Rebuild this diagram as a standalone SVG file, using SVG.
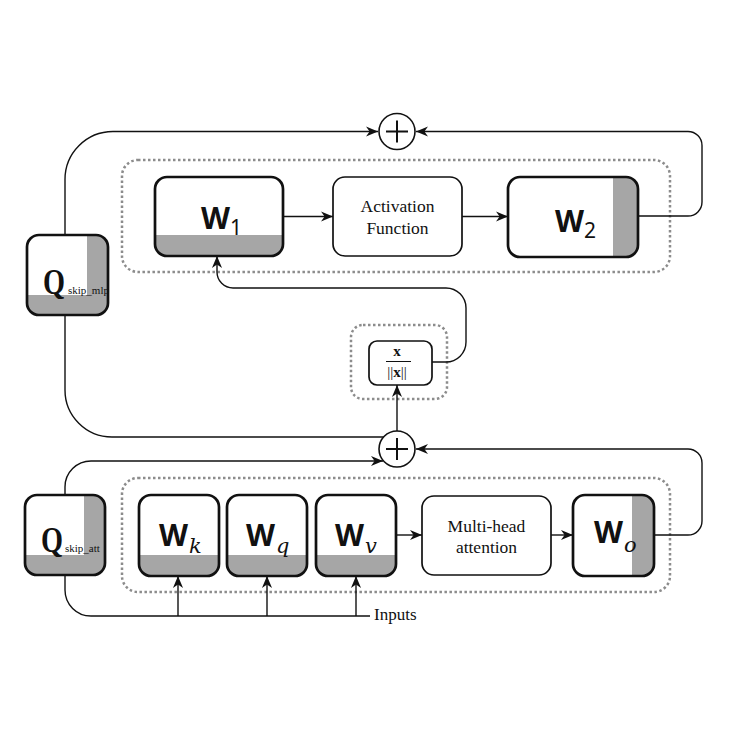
<svg xmlns="http://www.w3.org/2000/svg" width="735" height="735" viewBox="0 0 735 735">
<style>
.bg{fill:#fff}
.bold{fill:none;stroke:#111;stroke-width:2.7}
.thin{fill:#fff;stroke:#111;stroke-width:1.7}
.gray{fill:#a6a6a6}
.dot{fill:none;stroke:#8c8c8c;stroke-width:2.5;stroke-dasharray:2.5 2.5}
.conn{fill:none;stroke:#111;stroke-width:1.4}
.wt{font-family:"Noto Sans","DejaVu Sans",sans-serif;font-weight:bold;font-size:30px;fill:#111}
.ws{font-family:"Noto Sans","DejaVu Sans",sans-serif;font-size:21px;fill:#111}
.wi{font-family:"DejaVu Serif","Liberation Serif",serif;font-style:italic;font-size:21px;fill:#111}
.qt{font-family:"Liberation Serif",serif;font-weight:bold;font-size:35px;fill:#111}
.qs{font-family:"Liberation Serif",serif;font-size:11px;fill:#111}
.lbl{font-family:"Liberation Serif",serif;font-size:17.5px;fill:#111;text-anchor:middle}
.nt{font-family:"Liberation Serif",serif;font-size:15px;fill:#111;text-anchor:middle}
.plus{fill:#fff;stroke:#111;stroke-width:1.6}
.pl{stroke:#111;stroke-width:2;fill:none}
</style>
<defs>
<marker id="ah" viewBox="0 0 10 10" refX="10" refY="5" markerWidth="12" markerHeight="12" markerUnits="userSpaceOnUse" orient="auto">
<path d="M0,0.8 L10,5 L0,9.2 L3,5 Z" fill="#111"/>
</marker>
<clipPath id="cW1"><rect x="155" y="177" width="128" height="79" rx="12"/></clipPath>
<clipPath id="cW2"><rect x="508" y="177" width="130" height="80" rx="12"/></clipPath>
<clipPath id="cQm"><rect x="27" y="235" width="81" height="80" rx="12"/></clipPath>
<clipPath id="cQa"><rect x="25" y="495" width="80" height="80" rx="12"/></clipPath>
<clipPath id="cWk"><rect x="139" y="495" width="80" height="81" rx="12"/></clipPath>
<clipPath id="cWq"><rect x="227" y="495" width="80" height="81" rx="12"/></clipPath>
<clipPath id="cWv"><rect x="316" y="495" width="80" height="81" rx="12"/></clipPath>
<clipPath id="cWo"><rect x="573" y="495" width="81" height="81" rx="12"/></clipPath>
</defs>
<rect width="735" height="735" fill="#fff"/>

<g id="containers">
<rect class="dot" x="122" y="160" width="548" height="112" rx="16"/>
<rect class="dot" x="351" y="325" width="96" height="74" rx="12"/>
<rect class="dot" x="122" y="478" width="548" height="114" rx="16"/>
</g>

<g id="connectors">
<path class="conn" d="M65,235 V180 A48,48 0 0 1 113,131.5 H378" marker-end="url(#ah)"/>
<path class="conn" d="M638,216 H688 A14,14 0 0 0 702,202 V145.5 A14,14 0 0 0 688,131.5 H416" marker-end="url(#ah)"/>
<path class="conn" d="M283,216.5 H333" marker-end="url(#ah)"/>
<path class="conn" d="M462,216.5 H508" marker-end="url(#ah)"/>
<path class="conn" d="M65,315 V390 A47,47 0 0 0 112,437 H384"/>
<path class="conn" d="M397,431 V385" marker-end="url(#ah)"/>
<path class="conn" d="M432,362 H446 A20,20 0 0 0 466,342 V308 A20,20 0 0 0 446,288 H233 A16,16 0 0 1 217,272 V256" marker-end="url(#ah)"/>
<path class="conn" d="M65,495 V487 A26,26 0 0 1 91,461 H383" marker-end="url(#ah)"/>
<path class="conn" d="M654,535 H688 A14,14 0 0 0 702,521 V463 A14,14 0 0 0 688,449 H416" marker-end="url(#ah)"/>
<path class="conn" d="M396,535 H422" marker-end="url(#ah)"/>
<path class="conn" d="M551,535 H573" marker-end="url(#ah)"/>
<path class="conn" d="M65,575 V590 A26,26 0 0 0 91,616 H370"/>
<path class="conn" d="M178,616 V576" marker-end="url(#ah)"/>
<path class="conn" d="M267,616 V576" marker-end="url(#ah)"/>
<path class="conn" d="M356,616 V576" marker-end="url(#ah)"/>
<text x="374" y="620" style="font-family:'Liberation Serif',serif;font-size:17px;fill:#111">Inputs</text>
</g>

<g id="plus_top">
<circle class="plus" cx="397" cy="131.5" r="18"/>
<path class="pl" d="M386,131.5 H408 M397,120.5 V142.5"/>
</g>
<g id="plus_bottom">
<circle class="plus" cx="397" cy="449" r="18"/>
<path class="pl" d="M386,449 H408 M397,438 V460"/>
</g>

<g id="Q_skip_mlp">
<rect class="bg" x="27" y="235" width="81" height="80" rx="12"/>
<g clip-path="url(#cQm)"><rect class="gray" x="87" y="235" width="21" height="80"/><rect class="gray" x="27" y="295" width="81" height="20"/></g>
<rect class="bold" x="27" y="235" width="81" height="80" rx="12"/>
<text class="qt" x="43" y="294" textLength="22" lengthAdjust="spacingAndGlyphs">Q</text>
<text class="qs" x="68" y="294">skip_mlp</text>
</g>

<g id="W1">
<rect class="bg" x="155" y="177" width="128" height="79" rx="12"/>
<g clip-path="url(#cW1)"><rect class="gray" x="155" y="235" width="128" height="21"/></g>
<rect class="bold" x="155" y="177" width="128" height="79" rx="12"/>
<text class="wt" x="201" y="229">W</text>
<text class="ws" x="230" y="235">1</text>
</g>

<g id="activation">
<rect class="thin" x="333" y="177" width="129" height="79" rx="12"/>
<text class="lbl" x="397.5" y="212">Activation</text>
<text class="lbl" x="397.5" y="234">Function</text>
</g>

<g id="W2">
<rect class="bg" x="508" y="177" width="130" height="80" rx="12"/>
<g clip-path="url(#cW2)"><rect class="gray" x="613" y="177" width="25" height="80"/></g>
<rect class="bold" x="508" y="177" width="130" height="80" rx="12"/>
<text class="wt" x="555" y="232">W</text>
<text class="ws" x="584" y="238">2</text>
</g>

<g id="norm">
<rect class="thin" x="369" y="341" width="63" height="44" rx="8"/>
<text class="nt" x="397" y="356" font-weight="bold">x</text>
<path d="M386,361.5 H411" stroke="#111" stroke-width="1"/>
<text class="nt" x="397" y="377">||<tspan font-weight="bold">x</tspan>||</text>
</g>

<g id="Q_skip_att">
<rect class="bg" x="25" y="495" width="80" height="80" rx="12"/>
<g clip-path="url(#cQa)"><rect class="gray" x="84" y="495" width="21" height="80"/><rect class="gray" x="25" y="555" width="80" height="20"/></g>
<rect class="bold" x="25" y="495" width="80" height="80" rx="12"/>
<text class="qt" x="41" y="552" textLength="22" lengthAdjust="spacingAndGlyphs">Q</text>
<text class="qs" x="65" y="552">skip_att</text>
</g>

<g id="Wk">
<rect class="bg" x="139" y="495" width="80" height="81" rx="12"/>
<g clip-path="url(#cWk)"><rect class="gray" x="139" y="555" width="80" height="21"/></g>
<rect class="bold" x="139" y="495" width="80" height="81" rx="12"/>
<text class="wt" x="159" y="546">W</text>
<text class="wi" x="189" y="553">k</text>
</g>

<g id="Wq">
<rect class="bg" x="227" y="495" width="80" height="81" rx="12"/>
<g clip-path="url(#cWq)"><rect class="gray" x="227" y="555" width="80" height="21"/></g>
<rect class="bold" x="227" y="495" width="80" height="81" rx="12"/>
<text class="wt" x="246" y="546">W</text>
<text class="wi" x="276" y="553">q</text>
</g>

<g id="Wv">
<rect class="bg" x="316" y="495" width="80" height="81" rx="12"/>
<g clip-path="url(#cWv)"><rect class="gray" x="316" y="555" width="80" height="21"/></g>
<rect class="bold" x="316" y="495" width="80" height="81" rx="12"/>
<text class="wt" x="335" y="546">W</text>
<text class="wi" x="365" y="553">v</text>
</g>

<g id="multihead">
<rect class="thin" x="422" y="496" width="129" height="79" rx="12"/>
<text class="lbl" x="486.5" y="532">Multi-head</text>
<text class="lbl" x="486.5" y="553">attention</text>
</g>

<g id="Wo">
<rect class="bg" x="573" y="495" width="81" height="81" rx="12"/>
<g clip-path="url(#cWo)"><rect class="gray" x="632" y="495" width="22" height="81"/></g>
<rect class="bold" x="573" y="495" width="81" height="81" rx="12"/>
<text class="wt" x="594" y="543">W</text>
<text class="wi" x="624" y="552">o</text>
</g>
</svg>
